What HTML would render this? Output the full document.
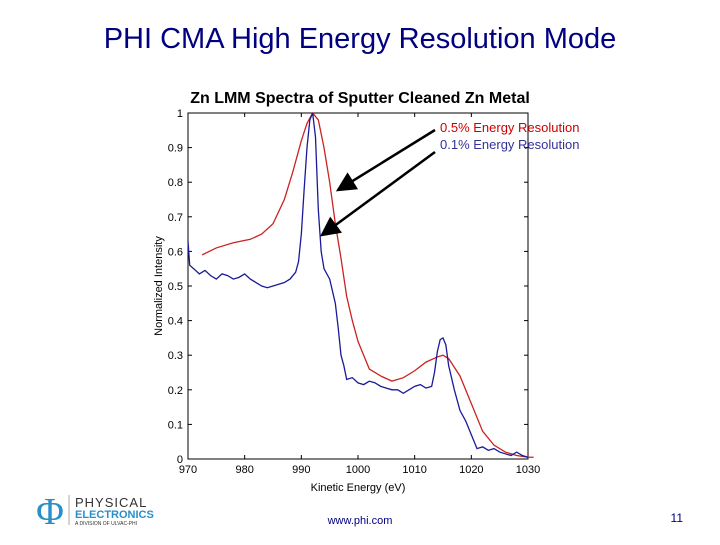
<!DOCTYPE html>
<html><head><meta charset="utf-8"><style>
body{margin:0;background:#fff;width:720px;height:540px;overflow:hidden;font-family:"Liberation Sans",sans-serif}
</style></head><body>
<svg width="720" height="540">
<text x="360" y="48" text-anchor="middle" font-size="29" fill="#000080">PHI CMA High Energy Resolution Mode</text>
<text x="360" y="103" text-anchor="middle" font-size="16" font-weight="bold">Zn LMM Spectra of Sputter Cleaned Zn Metal</text>
<g id="chart"></g>
<text x="358" y="491" text-anchor="middle" font-size="11">Kinetic Energy (eV)</text>
<text transform="translate(162,286) rotate(-90)" text-anchor="middle" font-size="11">Normalized Intensity</text>
<text x="440" y="132" font-size="13" fill="#cc0000">0.5% Energy Resolution</text>
<text x="440" y="149" font-size="13" fill="#333399">0.1% Energy Resolution</text>
<g>
<text x="50" y="524" text-anchor="middle" font-size="38" fill="#2a8fc8" font-family="Liberation Serif,serif">Φ</text>
<line x1="69" y1="495" x2="69" y2="525" stroke="#aaa"/>
<text x="75" y="507" font-size="13" fill="#333" letter-spacing="1">PHYSICAL</text>
<text x="75" y="518" font-size="11" font-weight="bold" fill="#2a8fc8">ELECTRONICS</text>
<text x="75" y="525" font-size="5" fill="#333">A DIVISION OF ULVAC-PHI</text>
</g>
<text x="360" y="524" text-anchor="middle" font-size="11" fill="#000080">www.phi.com</text>
<text x="683" y="522" text-anchor="end" font-size="12" fill="#000080">11</text>
</svg>
<script>
const xTicks=[970,980,990,1000,1010,1020,1030];
const yTicks=[0,0.1,0.2,0.3,0.4,0.5,0.6,0.7,0.8,0.9,1];
const redX=[972.5,975,978,981,983,985,987,988.5,990,991,992,993,994,995,996,997,998,999,1000,1001,1002,1004,1006,1008,1010,1012,1014,1015,1016,1018,1020,1022,1024,1026,1028,1030,1031];
const redY=[0.59,0.61,0.625,0.635,0.65,0.68,0.75,0.83,0.92,0.97,1.0,0.98,0.9,0.8,0.68,0.58,0.47,0.4,0.34,0.3,0.26,0.24,0.225,0.235,0.255,0.28,0.295,0.3,0.29,0.24,0.16,0.08,0.04,0.02,0.01,0.005,0.005];
const blueX=[970,970.3,971,972,973,974,975,976,977,978,979,980,981,982,983,984,985,986,987,988,989,989.5,990,990.5,991,991.5,992,992.5,993,993.5,994,995,996,996.5,997,997.5,998,999,1000,1001,1002,1003,1004,1005,1006,1007,1008,1009,1010,1011,1012,1013,1013.5,1014,1014.5,1015,1015.5,1016,1017,1018,1019,1020,1021,1022,1023,1024,1025,1026,1027,1028,1029,1030];
const blueY=[0.63,0.56,0.55,0.535,0.545,0.53,0.52,0.535,0.53,0.52,0.525,0.535,0.52,0.51,0.5,0.495,0.5,0.505,0.51,0.52,0.54,0.57,0.65,0.78,0.9,0.98,1.0,0.93,0.72,0.6,0.55,0.52,0.45,0.38,0.3,0.27,0.23,0.235,0.22,0.215,0.225,0.22,0.21,0.205,0.2,0.2,0.19,0.2,0.21,0.215,0.205,0.21,0.25,0.31,0.345,0.35,0.33,0.27,0.2,0.14,0.11,0.07,0.03,0.035,0.025,0.03,0.02,0.015,0.01,0.02,0.01,0.005];
const L=188,R=528,T=113,B=459;
const sx=v=>L+(v-970)/60*(R-L), sy=v=>B-v*(B-T);
const g=document.getElementById('chart'),NS='http://www.w3.org/2000/svg';
function mk(t,a){const e=document.createElementNS(NS,t);for(const k in a)e.setAttribute(k,a[k]);g.appendChild(e);return e;}
const box=mk('rect',{x:L,y:T,width:R-L,height:B-T,fill:'none',stroke:'#000','stroke-width':1});


xTicks.forEach(v=>{const x=sx(v);mk('line',{x1:x,x2:x,y1:B,y2:B-4,stroke:'#000'});mk('line',{x1:x,x2:x,y1:T,y2:T+4,stroke:'#000'});
const t=mk('text',{x:x,y:B+14,'text-anchor':'middle','font-size':11});t.textContent=v;

});
yTicks.forEach(v=>{const y=sy(v);mk('line',{x1:L,x2:L+4,y1:y,y2:y,stroke:'#000'});mk('line',{x1:R,x2:R-4,y1:y,y2:y,stroke:'#000'});
const t=mk('text',{x:L-5,y:y+4,'text-anchor':'end','font-size':11});t.textContent=v;

});
function line(xs,ys,c,n){const p=mk('polyline',{points:xs.map((x,i)=>sx(x)+','+sy(ys[i])).join(' '),fill:'none',stroke:c,'stroke-width':1.3});

}
line(redX,redY,'#cc2222','red-series');
line(blueX,blueY,'#1a1a99','blue-series');
mk('defs',{}).innerHTML='<marker id="ah" markerWidth="8" markerHeight="8" refX="7" refY="4" orient="auto"><path d="M0,0L8,4L0,8z" fill="#000"/></marker>';
const a1=mk('line',{x1:435,y1:130,x2:338,y2:190,stroke:'#000','stroke-width':2.5,'marker-end':'url(#ah)'});


const a2=mk('line',{x1:435,y1:152,x2:322,y2:235,stroke:'#000','stroke-width':2.5,'marker-end':'url(#ah)'});


</script>
</body></html>
